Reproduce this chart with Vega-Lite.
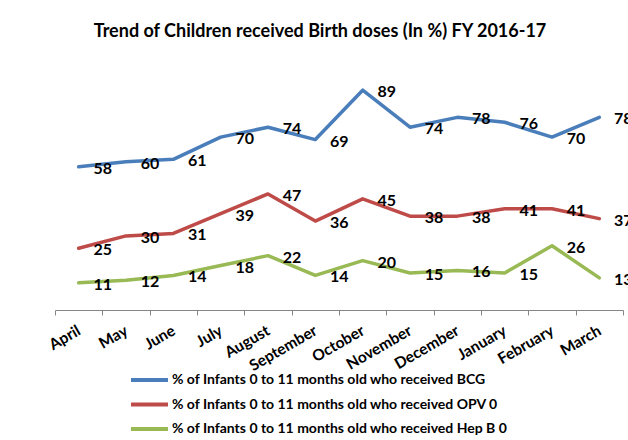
{
  "$schema": "https://vega.github.io/schema/vega-lite/v6.json",
  "width": 568,
  "height": 247,
  "autosize": {"type": "none"},
  "padding": {"left": 55, "top": 63, "right": 5, "bottom": 130},
  "background": "white",
  "config": {
    "view": {"stroke": null},
    "font": "Lato"
  },
  "title": {
    "text": "Trend of Children received Birth doses (In %) FY 2016-17",
    "font": "Lato",
    "fontSize": 18,
    "fontWeight": "bold",
    "color": "#000000",
    "anchor": "middle",
    "dx": -19,
    "offset": 22
  },
  "data": {
    "values": [
      {"month": "April", "series": "% of Infants 0 to 11 months old who received BCG", "value": 58},
      {"month": "May", "series": "% of Infants 0 to 11 months old who received BCG", "value": 60},
      {"month": "June", "series": "% of Infants 0 to 11 months old who received BCG", "value": 61},
      {"month": "July", "series": "% of Infants 0 to 11 months old who received BCG", "value": 70},
      {"month": "August", "series": "% of Infants 0 to 11 months old who received BCG", "value": 74},
      {"month": "September", "series": "% of Infants 0 to 11 months old who received BCG", "value": 69},
      {"month": "October", "series": "% of Infants 0 to 11 months old who received BCG", "value": 89},
      {"month": "November", "series": "% of Infants 0 to 11 months old who received BCG", "value": 74},
      {"month": "December", "series": "% of Infants 0 to 11 months old who received BCG", "value": 78},
      {"month": "January", "series": "% of Infants 0 to 11 months old who received BCG", "value": 76},
      {"month": "February", "series": "% of Infants 0 to 11 months old who received BCG", "value": 70},
      {"month": "March", "series": "% of Infants 0 to 11 months old who received BCG", "value": 78},
      {"month": "April", "series": "% of Infants 0 to 11 months old who received OPV 0", "value": 25},
      {"month": "May", "series": "% of Infants 0 to 11 months old who received OPV 0", "value": 30},
      {"month": "June", "series": "% of Infants 0 to 11 months old who received OPV 0", "value": 31},
      {"month": "July", "series": "% of Infants 0 to 11 months old who received OPV 0", "value": 39},
      {"month": "August", "series": "% of Infants 0 to 11 months old who received OPV 0", "value": 47},
      {"month": "September", "series": "% of Infants 0 to 11 months old who received OPV 0", "value": 36},
      {"month": "October", "series": "% of Infants 0 to 11 months old who received OPV 0", "value": 45},
      {"month": "November", "series": "% of Infants 0 to 11 months old who received OPV 0", "value": 38},
      {"month": "December", "series": "% of Infants 0 to 11 months old who received OPV 0", "value": 38},
      {"month": "January", "series": "% of Infants 0 to 11 months old who received OPV 0", "value": 41},
      {"month": "February", "series": "% of Infants 0 to 11 months old who received OPV 0", "value": 41},
      {"month": "March", "series": "% of Infants 0 to 11 months old who received OPV 0", "value": 37},
      {"month": "April", "series": "% of Infants 0 to 11 months old who received Hep B 0", "value": 11},
      {"month": "May", "series": "% of Infants 0 to 11 months old who received Hep B 0", "value": 12},
      {"month": "June", "series": "% of Infants 0 to 11 months old who received Hep B 0", "value": 14},
      {"month": "July", "series": "% of Infants 0 to 11 months old who received Hep B 0", "value": 18},
      {"month": "August", "series": "% of Infants 0 to 11 months old who received Hep B 0", "value": 22},
      {"month": "September", "series": "% of Infants 0 to 11 months old who received Hep B 0", "value": 14},
      {"month": "October", "series": "% of Infants 0 to 11 months old who received Hep B 0", "value": 20},
      {"month": "November", "series": "% of Infants 0 to 11 months old who received Hep B 0", "value": 15},
      {"month": "December", "series": "% of Infants 0 to 11 months old who received Hep B 0", "value": 16},
      {"month": "January", "series": "% of Infants 0 to 11 months old who received Hep B 0", "value": 15},
      {"month": "February", "series": "% of Infants 0 to 11 months old who received Hep B 0", "value": 26},
      {"month": "March", "series": "% of Infants 0 to 11 months old who received Hep B 0", "value": 13}
    ]
  },
  "encoding": {
    "x": {
      "field": "month",
      "type": "nominal",
      "sort": null,
      "bandPosition": 0.5,
      "scale": {"type": "band", "paddingInner": 0, "paddingOuter": 0},
      "axis": {
        "title": null,
        "tickBand": "extent",
        "domainColor": "#868686",
        "domainWidth": 1,
        "tickColor": "#868686",
        "tickSize": 5,
        "labelAngle": -30,
        "labelAlign": "right",
        "labelBaseline": "middle",
        "labelPadding": 14,
        "labelFont": "Lato",
        "labelFontSize": 15.5,
        "labelFontWeight": "bold",
        "labelColor": "#000000",
        "grid": false
      }
    },
    "y": {
      "field": "value",
      "type": "quantitative",
      "scale": {"domain": [0, 100]},
      "axis": null
    }
  },
  "layer": [
    {
      "mark": {"type": "line", "strokeWidth": 3.5, "strokeCap": "round", "strokeJoin": "round"},
      "encoding": {
        "color": {
          "field": "series",
          "type": "nominal",
          "sort": [
            "% of Infants 0 to 11 months old who received BCG",
            "% of Infants 0 to 11 months old who received OPV 0",
            "% of Infants 0 to 11 months old who received Hep B 0"
          ],
          "scale": {"range": ["#4A7EBB", "#BE4B48", "#98B954"]},
          "legend": {
            "title": null,
            "orient": "none",
            "legendX": 74,
            "legendY": 309,
            "direction": "vertical",
            "symbolType": "stroke",
            "symbolSize": 1369,
            "symbolStrokeWidth": 4,
            "clipHeight": 16,
            "labelFont": "Lato",
            "labelFontSize": 14,
            "labelFontWeight": "bold",
            "labelColor": "#000000",
            "labelOffset": 2,
            "rowPadding": 8.5,
            "labelLimit": 500
          }
        }
      }
    },
    {
      "mark": {
        "type": "text",
        "dx": 24,
        "dy": 2,
        "align": "center",
        "baseline": "middle",
        "font": "Lato",
        "fontSize": 16,
        "fontWeight": "bold",
        "color": "#000000",
        "clip": false
      },
      "encoding": {
        "text": {"field": "value", "type": "quantitative"},
        "detail": {"field": "series", "type": "nominal"}
      }
    }
  ]
}
